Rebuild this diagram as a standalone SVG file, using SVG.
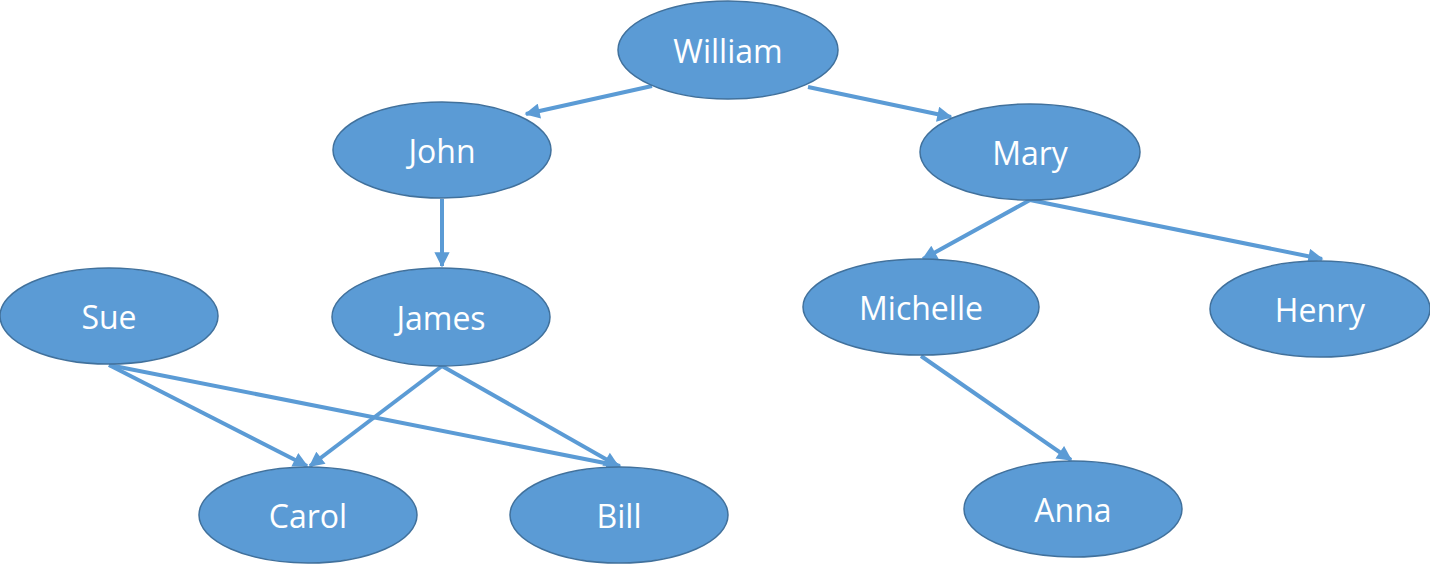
<svg xmlns="http://www.w3.org/2000/svg" width="1430" height="565" viewBox="0 0 1430 565">
<style>
.node ellipse{fill:#5B9BD5;stroke:#41719C;stroke-width:1.5}
.node text{fill:#fff;font-family:"Open Sans","Liberation Sans",sans-serif;font-size:32px;text-anchor:middle;dominant-baseline:central}
.edges line{stroke:#5B9BD5;stroke-width:4;marker-end:url(#ah)}
</style>
<defs>
<marker id="ah" viewBox="0 0 10 10" refX="9" refY="5" markerWidth="4" markerHeight="3.8" orient="auto" markerUnits="strokeWidth">
<path d="M0,0 L10,5 L0,10 z" fill="#5B9BD5"/>
</marker>
</defs>
<rect width="1430" height="565" fill="#fff"/>
<g class="edges">
<line x1="652" y1="86" x2="526" y2="114"/>
<line x1="808" y1="87" x2="951" y2="117"/>
<line x1="442" y1="199" x2="442" y2="266"/>
<line x1="1030" y1="200" x2="923" y2="259"/>
<line x1="1030" y1="200" x2="1322" y2="259"/>
<line x1="921" y1="356" x2="1071" y2="460"/>
<line x1="109" y1="365" x2="307" y2="466"/>
<line x1="109" y1="365" x2="620" y2="466"/>
<line x1="442" y1="366" x2="310" y2="466"/>
<line x1="442" y1="366" x2="618" y2="466"/>
</g>
<g id="william" class="node"><ellipse cx="728" cy="50" rx="110" ry="49"/><text x="728" y="50">William</text></g>
<g id="john" class="node"><ellipse cx="442" cy="150" rx="109" ry="48"/><text x="442" y="150">John</text></g>
<g id="mary" class="node"><ellipse cx="1030" cy="152" rx="110" ry="48"/><text x="1030" y="152">Mary</text></g>
<g id="sue" class="node"><ellipse cx="109" cy="316" rx="109" ry="48"/><text x="109" y="316">Sue</text></g>
<g id="james" class="node"><ellipse cx="441" cy="317" rx="109" ry="49"/><text x="441" y="317">James</text></g>
<g id="michelle" class="node"><ellipse cx="921" cy="307" rx="118" ry="48"/><text x="921" y="307">Michelle</text></g>
<g id="henry" class="node"><ellipse cx="1320" cy="309" rx="110" ry="48"/><text x="1320" y="309">Henry</text></g>
<g id="carol" class="node"><ellipse cx="308" cy="515" rx="109" ry="48"/><text x="308" y="515">Carol</text></g>
<g id="bill" class="node"><ellipse cx="619" cy="515" rx="109" ry="48"/><text x="619" y="515">Bill</text></g>
<g id="anna" class="node"><ellipse cx="1073" cy="509" rx="109" ry="48"/><text x="1073" y="509">Anna</text></g>
</svg>
